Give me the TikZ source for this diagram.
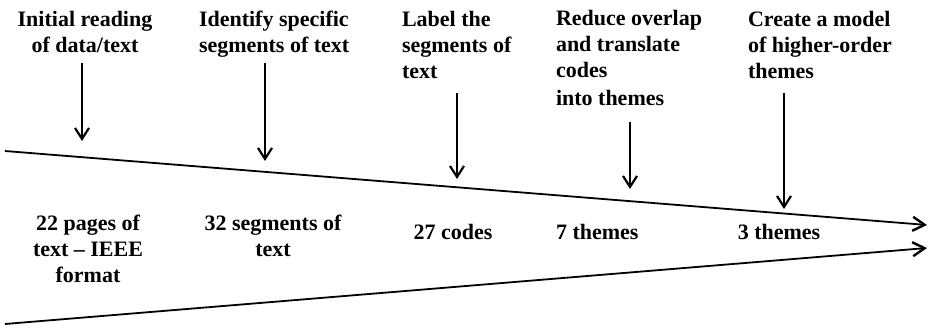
\documentclass[tikz,border=0pt]{standalone}
\usepackage{fontspec}
\setmainfont{Liberation Serif}
\usetikzlibrary{arrows.meta}
\tikzset{
  lbl/.style={font=\fontsize{22}{26}\selectfont\bfseries, inner sep=0pt, outer sep=0pt},
  stepdown/.style={line width=1.5pt, -{Straight Barb[length=11pt,width=14pt,line width=2.2pt]}},
  funnel/.style={line width=1.8pt, -{Straight Barb[length=12pt,width=14pt,line width=2.4pt]}}
}
\begin{document}
\begin{tikzpicture}[x=1pt,y=-1pt]
\useasboundingbox (0,0) rectangle (930,328);

% process steps along the top
\node[lbl, anchor=north, align=center] (s1) at (85,11) {Initial reading\\of data/text};
\node[lbl, anchor=north west, align=left] (s2) at (199,11) {Identify specific\\segments of text};
\node[lbl, anchor=north west, align=left] (s3) at (402,11) {Label the\\segments of\\text};
\node[lbl, anchor=north west, align=left] (s4) at (556,10) {Reduce overlap\\and translate\\codes\\[2pt]into themes};
\node[lbl, anchor=north west, align=left] (s5) at (748,11) {Create a model\\of higher-order\\themes};

% results inside the funnel
\node[lbl, anchor=north, align=center] (r1) at (88,215) {22 pages of\\text -- IEEE\\format};
\node[lbl, anchor=north, align=center] (r2) at (273,215) {32 segments of\\text};
\node[lbl, anchor=north] (r3) at (453,224) {27 codes};
\node[lbl, anchor=north west] (r4) at (556,224) {7 themes};
\node[lbl, anchor=north] (r5) at (779,224) {3 themes};

% arrow ends
\coordinate (a1) at (82,63);  \coordinate (b1) at (82,141);
\coordinate (a2) at (265,63); \coordinate (b2) at (265,161);
\coordinate (a3) at (457,93); \coordinate (b3) at (457,179);
\coordinate (a4) at (630,122);\coordinate (b4) at (630,189);
\coordinate (a5) at (784,93); \coordinate (b5) at (784,209);

\foreach \i in {1,...,5} \draw[stepdown] (a\i) -- (b\i);

% converging funnel lines
\coordinate (tl) at (5,151);  \coordinate (tr) at (927,225);
\coordinate (bl) at (5,324);  \coordinate (br) at (927,248);
\draw[funnel] (tl) -- (tr);
\draw[funnel] (bl) -- (br);
\end{tikzpicture}
\end{document}
